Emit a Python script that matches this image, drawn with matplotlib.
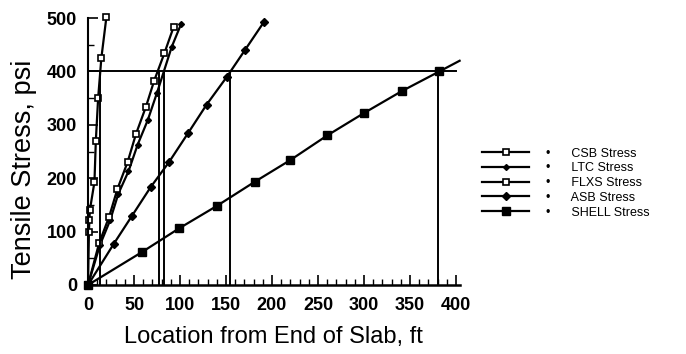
import matplotlib
matplotlib.use("Agg")
import matplotlib.pyplot as plt
from matplotlib.lines import Line2D
from matplotlib.ticker import MultipleLocator

plt.rcParams['font.family'] = ['Liberation Sans', 'DejaVu Sans']

# CSB Stress (steep curve, hollow squares)
csb_x = [0, 1, 1.5, 2, 7, 8.5, 11, 14.5, 20]
csb_y = [0, 100, 122, 140, 193, 270, 350, 425, 502]

# LTC Stress (small filled diamonds)
ltc_x = [0, 13, 24, 33, 44, 54, 65, 75, 91, 101]
ltc_y = [0, 75, 121, 171, 213, 263, 309, 360, 446, 488]

# FLXS Stress (hollow squares)
flxs_x = [0, 12, 23, 32, 43, 52, 63, 72, 83, 93]
flxs_y = [0, 78, 128, 180, 230, 282, 334, 383, 434, 483]

# ASB Stress (filled diamonds)
asb_x = [0, 28, 48, 68, 88, 109, 129, 151, 171, 191]
asb_y = [0, 77, 130, 183, 230, 285, 338, 390, 441, 492]

# SHELL Stress (filled squares)
shell_x = [0, 59, 99, 140, 181, 220, 260, 300, 341, 382, 404]
shell_y = [0, 62, 106, 148, 193, 234, 280, 322, 363, 400, 420]

# Reference level and crossing locations
level = 400
cross_x = [13, 77, 83, 154, 380]
hline_end = 400

labels = ["CSB Stress", "LTC Stress", "FLXS Stress", "ASB Stress", "SHELL Stress"]

fig = plt.figure(figsize=(6.86, 3.54), dpi=100)
ax = fig.add_axes([0.1283, 0.195, 0.670 - 0.1283, 0.949 - 0.195])

lw = 1.6
kw = dict(color='black', lw=lw, clip_on=False)
ax.plot(csb_x, csb_y, marker='s', ms=4.5, mfc='white', mec='black', mew=1.2, **kw)
ax.plot(ltc_x, ltc_y, marker='D', ms=3, mfc='black', mec='black', **kw)
ax.plot(flxs_x, flxs_y, marker='s', ms=4.5, mfc='white', mec='black', mew=1.2, **kw)
ax.plot(asb_x, asb_y, marker='D', ms=4.5, mfc='black', mec='black', **kw)
ax.plot(shell_x, shell_y, marker='s', ms=5.5, mfc='black', mec='black',
        markevery=list(range(len(shell_x) - 1)), **kw)

ax.plot([0, hline_end], [level, level], color='black', lw=1.4)
for cx in cross_x:
    ax.plot([cx, cx], [0, level], color='black', lw=1.4)

ax.set_xlim(0, 404)
ax.set_ylim(0, 500)
ax.spines['top'].set_visible(False)
ax.spines['right'].set_visible(False)
ax.spines['left'].set_linewidth(1.5)
ax.spines['bottom'].set_linewidth(1.8)

ax.xaxis.set_major_locator(MultipleLocator(50))
ax.xaxis.set_minor_locator(MultipleLocator(10))
ax.yaxis.set_major_locator(MultipleLocator(100))
ax.yaxis.set_minor_locator(MultipleLocator(50))
ax.tick_params(axis='both', which='major', direction='in', length=7, width=1.2, labelsize=13)
ax.tick_params(axis='x', which='major', pad=9)
ax.tick_params(axis='y', which='major', pad=8)
ax.tick_params(axis='both', which='minor', direction='in', length=4, width=1.0)
for lab in ax.get_xticklabels() + ax.get_yticklabels():
    lab.set_fontweight('bold')

ax.set_xlabel("Location from End of Slab, ft", fontsize=17, labelpad=8)
ax.set_ylabel("Tensile Stress, psi", fontsize=19.5)
ax.yaxis.set_label_coords(-0.138, 0.434)

handles = [
    Line2D([], [], color='black', lw=lw, marker='s', ms=4.5, mfc='white', mec='black', mew=1.2),
    Line2D([], [], color='black', lw=lw, marker='D', ms=3, mfc='black', mec='black'),
    Line2D([], [], color='black', lw=lw, marker='s', ms=4.5, mfc='white', mec='black', mew=1.2),
    Line2D([], [], color='black', lw=lw, marker='D', ms=4.5, mfc='black', mec='black'),
    Line2D([], [], color='black', lw=lw, marker='s', ms=5.5, mfc='black', mec='black'),
]
leg_labels = ["\u2022      " + s for s in labels]
fig.legend(handles, leg_labels, loc='center left', bbox_to_anchor=(0.695, 0.483),
           frameon=False, fontsize=9, handlelength=3.8, handletextpad=1.3,
           labelspacing=0.22, borderaxespad=0)

fig.savefig("out.png", dpi=100)
